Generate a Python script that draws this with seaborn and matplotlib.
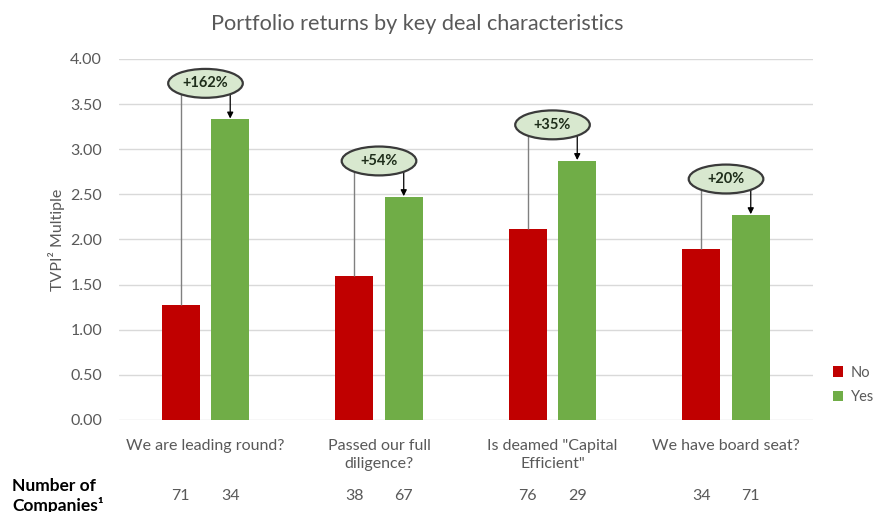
import matplotlib
matplotlib.use("Agg")
import matplotlib.pyplot as plt
import matplotlib.transforms as mtransforms
from matplotlib.patches import Ellipse
import seaborn as sns
import pandas as pd

categories = ["We are leading round?", "Passed our full\ndiligence?",
              "Is deamed \"Capital\nEfficient\"", "We have board seat?"]
series = ["No", "Yes"]
no_values = [1.27, 1.60, 2.12, 1.89]
yes_values = [3.33, 2.47, 2.87, 2.27]
uplift_labels = ["+162%", "+54%", "+35%", "+20%"]
no_counts = [71, 38, 76, 34]
yes_counts = [34, 67, 29, 71]
colors = {"No": "#C00000", "Yes": "#70AD47"}

rows = []
for c, n, y in zip(categories, no_values, yes_values):
    rows.append({"cat": c, "series": "No", "val": n})
    rows.append({"cat": c, "series": "Yes", "val": y})
df = pd.DataFrame(rows)

sns.set_theme(style="white")
plt.rcParams['font.family'] = ['Lato', 'DejaVu Sans']

fig = plt.figure(figsize=(8.75, 5.12), dpi=100)
ax = fig.add_axes([0.1357, 0.1797, 0.7932, 0.7051])

sns.barplot(data=df, x="cat", y="val", hue="series", palette=colors,
            width=0.57, gap=0.23, ax=ax, edgecolor=None, linewidth=0,
            saturation=1, legend=True)

ax.set_ylim(0, 4)
ax.set_xlim(-0.5, 3.5)
ax.set_yticks([i * 0.5 for i in range(9)])
ax.set_yticklabels([f"{i*0.5:.2f}" for i in range(9)], color="#595959", fontsize=11.5)
ax.yaxis.grid(True, color="#d9d9d9", linewidth=1)
ax.set_axisbelow(True)
for s in ax.spines.values():
    s.set_visible(False)
ax.tick_params(axis="both", length=0)
ax.tick_params(axis="y", pad=12)
ax.tick_params(axis="x", pad=14)
ax.set_xticks(range(len(categories)))
ax.set_xticklabels(categories, color="#595959", fontsize=11.5, linespacing=1.35)
ax.set_xlabel("")
ax.set_ylabel("TVPI² Multiple", color="#595959", fontsize=11.5, labelpad=4)

fig.text(0.477, 1 - 24 / 512, "Portfolio returns by key deal characteristics",
         ha="center", va="center", color="#595959", fontsize=15.6)

# bar centres from seaborn's containers
no_bars = ax.containers[0]
yes_bars = ax.containers[1]
trans = mtransforms.blended_transform_factory(ax.transData, fig.transFigure)
for i in range(len(categories)):
    pn = no_bars[i]
    py = yes_bars[i]
    xn = pn.get_x() + pn.get_width() / 2
    xy = py.get_x() + py.get_width() / 2
    yn = no_values[i]
    yy = yes_values[i]
    ey = yy + 0.40
    ex = i
    ax.plot([xn, xn], [yn, ey], color="#808080", lw=1, zorder=3, solid_capstyle="butt")
    ax.annotate("", xy=(xy, yy + 0.01), xytext=(xy, ey),
                arrowprops=dict(arrowstyle="-|>", color="black", lw=0.9,
                                mutation_scale=9, shrinkA=0, shrinkB=0),
                zorder=3)
    e = Ellipse((ex, ey), width=0.43, height=0.32, facecolor="#D8E8CF",
                edgecolor="#3a3a3a", lw=1.6, zorder=4)
    ax.add_patch(e)
    ax.text(ex, ey, uplift_labels[i], ha="center", va="center", fontsize=10.5,
            fontweight="bold", color="#1e2d1a", zorder=5)
    ax.text(xn, 1 - 496 / 512, str(no_counts[i]), transform=trans, ha="center",
            va="center", color="#595959", fontsize=11.5)
    ax.text(xy, 1 - 496 / 512, str(yes_counts[i]), transform=trans, ha="center",
            va="center", color="#595959", fontsize=11.5)

fig.text(0.014, 1 - 486 / 512, "Number of", fontsize=12.5, fontweight="bold",
         color="black", ha="left", va="center")
fig.text(0.014, 1 - 505 / 512, "Companies¹", fontsize=12.5, fontweight="bold",
         color="black", ha="left", va="center")

handles, labels = ax.get_legend_handles_labels()
ax.legend(handles, labels, loc="center left", bbox_to_anchor=(0.952, 0.248),
          bbox_transform=fig.transFigure, frameon=False, fontsize=10.5,
          handlelength=0.7, handleheight=0.7, handletextpad=0.5,
          labelspacing=0.75, labelcolor="#595959", borderaxespad=0, borderpad=0)

fig.savefig("out.png", dpi=100)
